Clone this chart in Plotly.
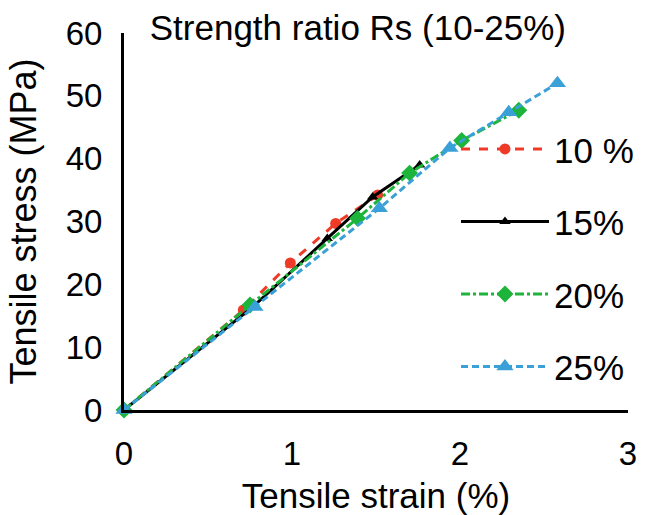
import plotly.graph_objects as go

# Data
strain_10 = [0, 0.71, 0.99, 1.26, 1.51]
stress_10 = [0, 15.9, 23.4, 29.7, 34.2]

strain_15 = [0, 0.77, 1.21, 1.48, 1.76]
stress_15 = [0, 16.5, 27.3, 33.9, 39.0]

strain_20 = [0, 0.75, 1.39, 1.70, 2.01, 2.35]
stress_20 = [0, 16.7, 30.5, 37.7, 42.9, 47.7]

strain_25 = [0, 0.78, 1.52, 1.94, 2.29, 2.58]
stress_25 = [0, 16.4, 32.1, 41.7, 47.4, 52.0]

names = ["10 %", "15%", "20%", "25%"]
x_ticks = [0, 1, 2, 3]
y_ticks = [0, 10, 20, 30, 40, 50, 60]

FONT = "Liberation Sans, Arial, sans-serif"

fig = go.Figure()
fig.add_trace(go.Scatter(x=strain_10, y=stress_10, name=names[0], mode="lines+markers",
                         line=dict(color="#ee3a26", width=3, dash="dash"),
                         marker=dict(symbol="circle", size=11, color="#ee3a26"),
                         legendgroup="a", cliponaxis=False))
fig.add_trace(go.Scatter(x=strain_15, y=stress_15, name=names[1], mode="lines+markers",
                         line=dict(color="#000000", width=3),
                         marker=dict(symbol="triangle-up", size=10, color="#000000"),
                         legendgroup="b", cliponaxis=False))
fig.add_trace(go.Scatter(x=strain_20, y=stress_20, name=names[2], mode="lines+markers",
                         line=dict(color="#1db43c", width=3, dash="dashdot"),
                         marker=dict(symbol="diamond", size=13, color="#1db43c"),
                         legendgroup="c", cliponaxis=False))
fig.add_trace(go.Scatter(x=strain_25, y=stress_25, name=names[3], mode="lines+markers",
                         line=dict(color="#3aa0d8", width=3, dash="7px,4px"),
                         marker=dict(symbol="triangle-up", size=15, color="#3aa0d8"),
                         legendgroup="d", cliponaxis=False))

fig.update_layout(
    width=646, height=515,
    margin=dict(l=124, r=18, t=33, b=105, autoexpand=False),
    paper_bgcolor="white", plot_bgcolor="white",
    font=dict(family=FONT, size=31, color="black"),
    title=dict(text="Strength ratio Rs (10-25%)", x=0.554, xanchor="center",
               y=1 - 28 / 515, yanchor="middle", font=dict(size=35),
               automargin=False),
    xaxis=dict(range=[0, 3], tickvals=x_ticks, showgrid=False, zeroline=False,
               showline=True, linecolor="black", linewidth=3, ticks="",
               ticklabelstandoff=12, automargin=False,
               title=dict(text="Tensile strain (%)", standoff=15, font=dict(size=35)),
               tickfont=dict(size=33)),
    yaxis=dict(range=[0, 60], tickvals=y_ticks, showgrid=False, zeroline=False,
               showline=True, linecolor="black", linewidth=3, ticks="",
               ticklabelstandoff=12, automargin=False,
               title=dict(text="Tensile stress (MPa)", standoff=19, font=dict(size=36)),
               tickfont=dict(size=33)),
    showlegend=True,
    legend=dict(x=0.6587, y=0.77, xanchor="left", yanchor="top",
                bgcolor="rgba(0,0,0,0)", font=dict(size=35),
                itemwidth=88, tracegroupgap=24, maxheight=600),
)

fig.write_html("out.html")
